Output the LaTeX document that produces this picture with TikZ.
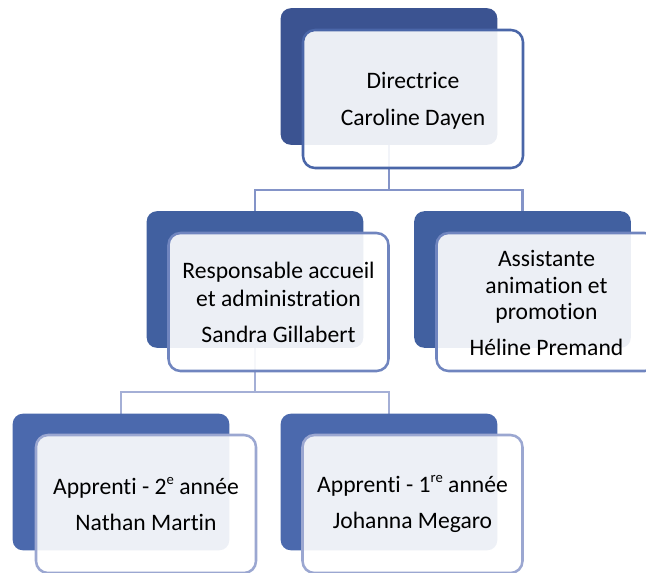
\documentclass[tikz,border=0pt]{standalone}
\usepackage{fontspec}
\setmainfont[Ligatures=NoCommon]{Carlito}
\definecolor{backA}{HTML}{3B5391}
\definecolor{backB}{HTML}{4160A0}
\definecolor{backC}{HTML}{4B69AD}
\definecolor{edgeA}{HTML}{4A66A8}
\definecolor{edgeB}{HTML}{7085BF}
\definecolor{edgeC}{HTML}{9BA7D1}
\definecolor{linkA}{HTML}{8494C8}
\definecolor{linkB}{HTML}{A4AFD6}
\tikzset{
  backbox/.style={rectangle, rounded corners=7.5pt, inner sep=0pt,
    minimum width=162pt, minimum height=102pt, draw=none},
  frontbox/.style={rectangle, rounded corners=9pt, inner sep=0pt,
    minimum width=165pt, minimum height=103.5pt, fill=white, fill opacity=0.9,
    line width=1.9pt},
  label/.style={align=center, font=\fontsize{17.7}{21}\selectfont, text=black, inner sep=0pt},
  link/.style={line width=1.6pt}
}
\newcommand{\supx}[1]{\raisebox{0.45em}{\fontsize{11}{11}\selectfont #1}}
\begin{document}
\begin{tikzpicture}[x=0.75pt,y=-0.75pt]
\useasboundingbox (0,0) rectangle (646,572);
\clip (0,0) rectangle (646,572);
% back boxes (positions only, filled later)
\path
  node[backbox] (b0) at (389,76.5) {}
  node[backbox] (b1) at (255,279.5) {}
  node[backbox] (b2) at (522.5,279.5) {}
  node[backbox] (b3) at (121,482) {}
  node[backbox] (b4) at (389,482) {};
% connectors
\coordinate (j0) at (389,190);
\coordinate (j1) at (255,392);
\draw[link, linkA] (b0.south) -- (j0) -| (b1.north);
\draw[link, linkA] (j0) -| (b2.north);
\draw[link, linkB] (b1.south) -- (j1) -| (b3.north);
\draw[link, linkB] (j1) -| (b4.north);
% back box fills
\fill[backA, rounded corners=7.5pt] (b0.south west) rectangle (b0.north east);
\fill[backB, rounded corners=7.5pt] (b1.south west) rectangle (b1.north east);
\fill[backB, rounded corners=7.5pt] (b2.south west) rectangle (b2.north east);
\fill[backC, rounded corners=7.5pt] (b3.south west) rectangle (b3.north east);
\fill[backC, rounded corners=7.5pt] (b4.south west) rectangle (b4.north east);
% front boxes
\node[frontbox, draw=edgeA] (f0) at (413,99) {};
\node[frontbox, draw=edgeB] (f1) at (278.5,302) {};
\node[frontbox, draw=edgeB] (f2) at (546.5,302) {};
\node[frontbox, draw=edgeC] (f3) at (146,504) {};
\node[frontbox, draw=edgeC] (f4) at (412.5,504) {};
% texts
\node[label, yshift=-1.5pt] (t0) at (f0) {Directrice\\[6.8pt]Caroline Dayen};
\node[label] (t1) at (f1) {Responsable accueil\\et administration\\[6pt]Sandra Gillabert};
\node[label, yshift=-0.8pt] (t2) at (f2) {Assistante\\[-1.2pt]animation et\\[-1.2pt]promotion\\[6pt]Héline Premand};
\node[label] (t3) at (f3) {Apprenti - 2\supx{e} année\\[6pt]Nathan Martin};
\node[label] (t4) at (f4) {Apprenti - 1\supx{re} année\\[6pt]Johanna Megaro};
\end{tikzpicture}
\end{document}
